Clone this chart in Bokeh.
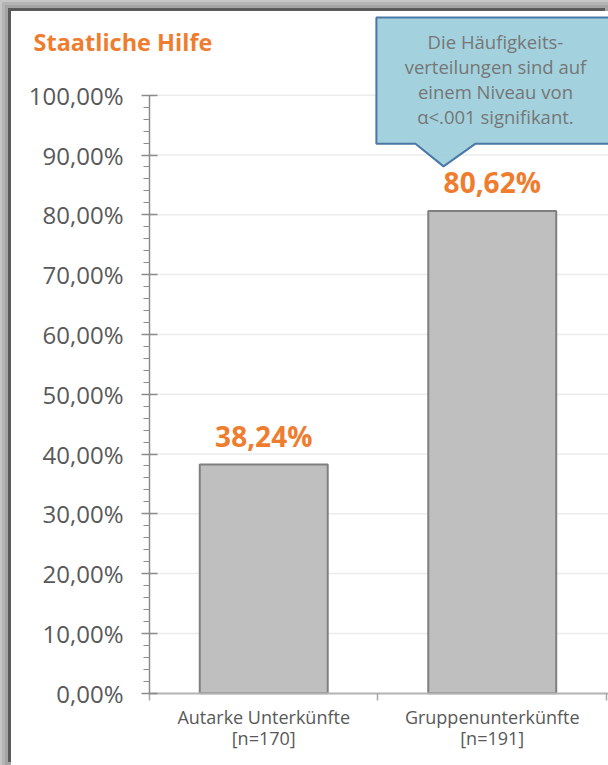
from bokeh.plotting import figure
from bokeh.models import Range1d, FixedTicker, ColumnDataSource
from bokeh.core.properties import value
from bokeh.embed import file_html
from bokeh.resources import INLINE

# ---- data ----
chart_title = "Staatliche Hilfe"
categories = ["Autarke Unterkünfte", "Gruppenunterkünfte"]
sample_sizes = [170, 191]
shares = [38.24, 80.62]
y_ticks = [0, 10, 20, 30, 40, 50, 60, 70, 80, 90, 100]
y_minor_ticks = list(range(0, 101, 2))
note_text = "Die Häufigkeits-\nverteilungen sind auf\neinem Niveau von\nα<.001 signifikant."

ORANGE = "#ef7d2f"
FONT = "Open Sans"
X_END = 2.0088

xs = [i + 0.5 for i in range(len(categories))]
bounds = list(range(len(categories) + 1))
labels = [f"{v:.2f}".replace(".", ",") + "%" for v in shares]
src = ColumnDataSource(dict(x=xs, share=shares, label=labels))
grid_src = ColumnDataSource(dict(y=y_ticks[1:], x0=[bounds[0]] * (len(y_ticks) - 1),
                                 x1=[X_END] * (len(y_ticks) - 1)))

p = figure(width=597, height=754,
           x_range=Range1d(-0.6039, X_END), y_range=Range1d(-12.09, 114.0),
           output_backend="svg", toolbar_location=None, min_border=0,
           min_border_left=0, min_border_right=0,
           min_border_top=0, min_border_bottom=0)
p.styles = {
    "margin-left": "11px",
    "margin-top": "11px",
    "box-shadow": ("-3px -3px 0 0 #5a5a5a, -3px -3px 0 3px #a4a4a4, "
                   "-3px -3px 0 6px #b4b4b4, -3px -3px 0 8px #c6c6c6"),
}
p.outline_line_color = None
p.background_fill_color = "white"
p.border_fill_color = "white"
p.grid.visible = False

# horizontal gridlines starting at the value axis
p.segment(x0="x0", x1="x1", y0="y", y1="y", source=grid_src,
          line_color="#ebebeb", line_width=1.5)

# bars
p.vbar(x="x", top="share", bottom=0, width=0.56, source=src,
       fill_color="#bfbfbf", line_color="#7f7f7f", line_width=2)

# value labels
p.text(x="x", y="share", text="label", source=src,
       text_align="center", text_baseline="alphabetic", y_offset=-29,
       text_font=value(FONT), text_font_style="bold",
       text_font_size="28px", text_color=ORANGE)

# callout box (annotation geometry)
cx_l, cx_r = 0.993, 2.3
cy_t, cy_b = 113.0, 91.9
ptr = (1.164, 1.287, 1.427, 88.1)
p.patch(x=[cx_l, cx_r, cx_r, ptr[2], ptr[1], ptr[0], cx_l],
        y=[cy_t, cy_t, cy_b, cy_b, ptr[3], cy_b, cy_b],
        fill_color="#9ccfdc", fill_alpha=0.93,
        line_color="#4a78a6", line_width=2)
p.text(x=[1.514], y=[102.7], text=[note_text],
       text_align="center", text_baseline="middle",
       text_font=value(FONT), text_font_size="18.5px",
       text_color="#767676", text_line_height=0.99)

# title
p.text(x=[-0.5077], y=[108.95], text=[chart_title],
       text_align="left", text_baseline="alphabetic",
       text_font=value(FONT), text_font_style="bold",
       text_font_size="23.5px", text_color=ORANGE)

# y axis
ya = p.yaxis[0]
ya.fixed_location = bounds[0]
ya.ticker = FixedTicker(ticks=y_ticks, minor_ticks=y_minor_ticks)
ya.bounds = (y_ticks[0], y_ticks[-1])
ya.major_label_overrides = {t: f"{t:.2f}".replace(".", ",") + "%" for t in y_ticks}
ya.major_label_text_font = FONT
ya.major_label_text_font_size = "24px"
ya.major_label_text_color = "#595959"
ya.major_label_standoff = 18
ya.axis_line_color = "#8c8c8c"
ya.axis_line_width = 1.5
ya.major_tick_line_color = "#8c8c8c"
ya.major_tick_line_width = 1.5
ya.major_tick_in = 8
ya.major_tick_out = 8
ya.minor_tick_line_color = "#8c8c8c"
ya.minor_tick_in = 0
ya.minor_tick_out = 6

# x axis
xa = p.xaxis[0]
xa.fixed_location = y_ticks[0]
xa.bounds = (bounds[0], X_END)
xa.ticker = FixedTicker(ticks=xs, minor_ticks=bounds)
xa.major_label_overrides = {x: f"{c}\n[n={n}]" for x, c, n in zip(xs, categories, sample_sizes)}
xa.major_label_text_font = FONT
xa.major_label_text_font_size = "18px"
xa.major_label_text_color = "#595959"
xa.major_label_text_line_height = 0.86
xa.major_label_standoff = 5
xa.major_tick_line_color = None
xa.major_tick_in = 0
xa.major_tick_out = 0
xa.minor_tick_line_color = "#a6a6a6"
xa.minor_tick_line_width = 1.5
xa.minor_tick_in = 0
xa.minor_tick_out = 7
xa.axis_line_color = "#b3b3b3"
xa.axis_line_width = 2

open("out.html", "w").write(file_html(p, INLINE))
